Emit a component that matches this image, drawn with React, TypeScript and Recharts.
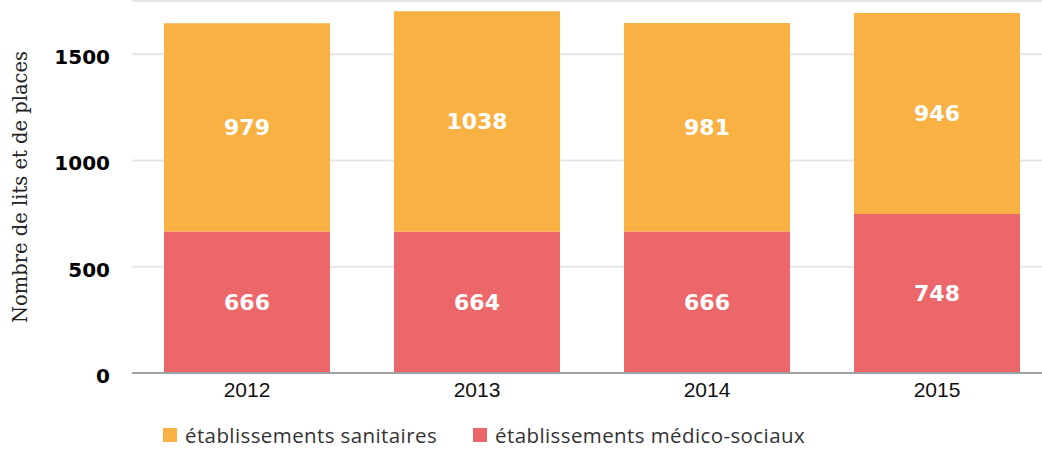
import { Bar, BarChart, CartesianGrid, LabelList, Legend, XAxis, YAxis } from "recharts";

const years = ["2012", "2013", "2014", "2015"];
const sanitaires = [979, 1038, 981, 946];
const medicoSociaux = [666, 664, 666, 748];
const yTicks = [0, 500, 1000, 1500];

const ORANGE = "#F9B143";
const RED = "#EC676A";

const data = years.map((year, i) => ({
  year,
  sanitaires: sanitaires[i],
  medico: medicoSociaux[i],
}));

const legendItems = [
  { label: "établissements sanitaires", color: ORANGE },
  { label: "établissements médico-sociaux", color: RED },
];

function LegendContent() {
  return (
    <div
      style={{
        display: "flex",
        width: 820,
        paddingLeft: 163,
        paddingTop: 19,
        fontFamily: "'Open Sans', sans-serif",
        fontSize: 20.5,
        letterSpacing: 0.4,
        color: "#333",
        lineHeight: "22px",
      }}
    >
      {legendItems.map((item) => (
        <div key={item.label} style={{ display: "flex", alignItems: "center", marginRight: 36, whiteSpace: "nowrap" }}>
          <span style={{ width: 14, height: 14, background: item.color, marginRight: 8, display: "inline-block" }} />
          <span>{item.label}</span>
        </div>
      ))}
    </div>
  );
}

function YTick(props: any) {
  const { x, y, payload } = props;
  return (
    <text
      x={x}
      y={y}
      dy={10}
      textAnchor="end"
      fill="#000"
      fontFamily="'DejaVu Sans', sans-serif"
      fontWeight={700}
      fontSize={20}
    >
      {payload.value}
    </text>
  );
}

const barLabel = {
  fill: "#fff",
  fontFamily: "'DejaVu Sans', sans-serif",
  fontWeight: 700,
  fontSize: 22,
};

export default function App() {
  return (
    <div style={{ position: "absolute", left: 0, top: 0, width: 1042, height: 450, overflow: "hidden", background: "#fff" }}>
      <BarChart width={1052} height={450} data={data} margin={{ top: 1, right: 0, bottom: 0, left: 0 }} barSize={166}>
        <CartesianGrid vertical={false} stroke="#e6e6e6" strokeWidth={2} />
        <XAxis
          dataKey="year"
          tickLine={false}
          tickSize={0}
          tickMargin={9}
          axisLine={{ stroke: "#9ea3ab", strokeWidth: 2 }}
          height={32}
          tick={{ fill: "#111", fontFamily: "'Liberation Sans', sans-serif", fontSize: 21 }}
        />
        <YAxis
          domain={[0, 1750]}
          ticks={yTicks}
          width={132}
          axisLine={false}
          tickLine={false}
          tickSize={0}
          tickMargin={22}
          tick={<YTick />}
          label={{
            value: "Nombre de lits et de places",
            angle: -90,
            position: "insideLeft",
            offset: 20,
            style: { textAnchor: "middle", fill: "#222", fontFamily: "'DejaVu Serif', serif", fontSize: 19.5 },
          }}
        />
        <Legend
          verticalAlign="bottom"
          height={45}
          wrapperStyle={{ width: 1000, left: 0 }}
          content={<LegendContent />}
        />
        <Bar dataKey="medico" stackId="a" fill={RED} isAnimationActive={false}>
          <LabelList dataKey="medico" position="center" style={barLabel} />
        </Bar>
        <Bar dataKey="sanitaires" stackId="a" fill={ORANGE} isAnimationActive={false}>
          <LabelList dataKey="sanitaires" position="center" style={barLabel} />
        </Bar>
      </BarChart>
    </div>
  );
}
